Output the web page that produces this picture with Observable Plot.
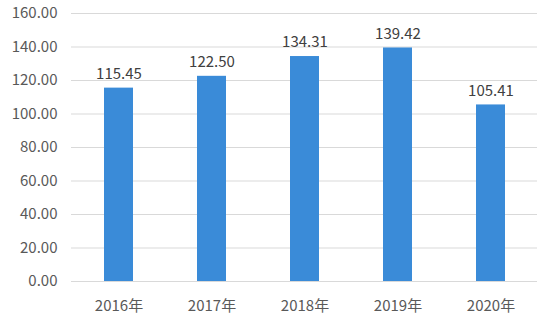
<!DOCTYPE html>
<html><head><meta charset="utf-8">
<script src="https://cdn.jsdelivr.net/npm/d3@7"></script>
<script src="https://cdn.jsdelivr.net/npm/@observablehq/plot@0.6"></script>
<style>body{margin:0;background:#fff;} svg{display:block;}</style>
</head><body><div id="chart"></div>
<script>
const years = ["2016年","2017年","2018年","2019年","2020年"];
const values = [115.45, 122.50, 134.31, 139.42, 105.41];
const yTicks = [0,20,40,60,80,100,120,140,160];
const data = years.map((y,i)=>({year:y, value:values[i]}));
const font = "'Noto Sans CJK SC', 'Microsoft YaHei', sans-serif";
const chart = Plot.plot({
  width: 550, height: 325,
  marginLeft: 71, marginRight: 13, marginTop: 13, marginBottom: 44,
  style: {fontFamily: font, fontSize: "15px", color: "#595959", background: "#fff"},
  x: {domain: years, paddingInner: 0.69, paddingOuter: 0.345, align: 0.5, label: null},
  y: {domain: [0,160], label: null},
  marks: [
    Plot.gridY(yTicks, {stroke: "#d9d9d9", strokeOpacity: 1}),
    Plot.axisY({ticks: yTicks, tickSize: 0, tickPadding: 14, tickFormat: d => d.toFixed(2), fontSize: 15, fill: "#595959"}),
    Plot.axisX({tickSize: 0, tickPadding: 19, fontSize: 15, fill: "#595959"}),
    Plot.barY(data, {x: "year", y: "value", fill: "#3a8bd8"}),
    Plot.text(data, {x: "year", y: "value", text: d => d.value.toFixed(2), dy: -14, fontSize: 15, fill: "#404040"})
  ]
});
document.getElementById("chart").append(chart);
</script></body></html>
